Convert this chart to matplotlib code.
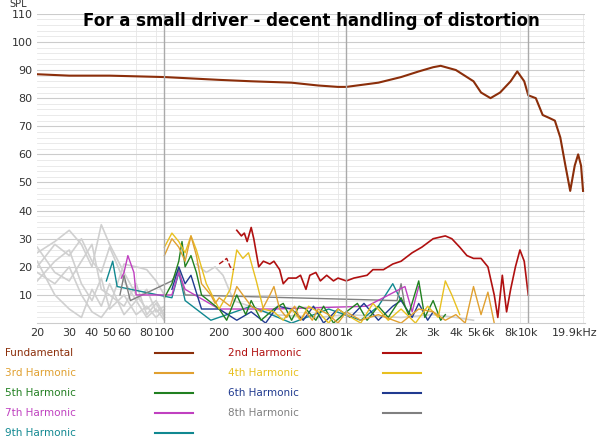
import matplotlib.pyplot as plt
import numpy as np

fund_f = [20, 30, 50, 100, 200, 300, 500, 700, 900, 1000, 1500, 2000, 2500, 3000, 3300, 4000,
          5000, 5500, 6200, 7000, 8000, 8700, 9500, 10000, 11000, 12000, 13000, 14000, 15000,
          16000, 17000, 18000, 18800, 19500, 20000]
fund_db = [88.5, 88, 88, 87.5, 86.5, 86, 85.5, 84.5, 84, 84, 85.5, 87.5, 89.5, 91, 91.5, 90,
           86, 82, 80, 82, 86, 89.5, 86, 81, 80, 74, 73, 72, 66, 56, 47, 56, 60, 56, 47]

h2_f = [250, 265, 275, 285, 300, 310, 330, 350, 380, 400, 430, 450, 480, 530, 560, 600, 630,
        680, 720, 780, 850, 900, 1000, 1100, 1300, 1400, 1600, 1800, 2000, 2300, 2600, 3000,
        3500, 3800, 4200, 4600, 5000, 5500, 6000, 6500, 6800, 7200, 7600, 8000, 8500, 9000,
        9500, 10000]
h2_db = [33, 31, 32, 29, 34, 30, 20, 22, 21, 22, 19, 14, 16, 16, 17, 12, 17, 18, 15, 17, 15,
         16, 15, 16, 17, 19, 19, 21, 22, 25, 27, 30, 31, 30, 27, 24, 23, 23, 20, 10, 2, 17, 4,
         12, 20, 26, 22, 10]
h2_pre_f = [200, 210, 220, 230, 240]
h2_pre_db = [21, 22, 23, 20, 19]

h3_f = [100, 110, 120, 130, 140, 150, 160, 180, 190, 200, 230, 250, 270, 300, 340, 380, 400,
        430, 470, 520, 560, 600, 650, 700, 800, 900, 1000, 1200, 1500, 2000, 2500, 3000, 3500,
        4000, 4500, 5000, 5500, 6000, 6500]
h3_db = [24, 30, 27, 22, 31, 24, 14, 10, 7, 9, 6, 13, 10, 6, 4, 10, 13, 5, 2, 6, 1, 4, 1, 5,
         3, 0, 4, 1, 3, 0, 5, 4, 1, 3, 0, 13, 3, 11, 0]
h4_f = [100, 110, 120, 130, 140, 150, 170, 200, 230, 250, 270, 290, 320, 350, 400, 450, 500,
        560, 620, 700, 800, 900, 1000, 1200, 1400, 1700, 2000, 2400, 2800, 3200, 3500, 3800,
        4200]
h4_db = [27, 32, 29, 25, 31, 26, 14, 5, 12, 26, 23, 25, 15, 5, 4, 1, 5, 1, 6, 4, 0, 5, 3, 0,
         7, 1, 5, 0, 6, 2, 15, 10, 3]
h5_f = [100, 110, 120, 125, 130, 140, 150, 160, 200, 220, 250, 280, 300, 340, 400, 450, 500,
        550, 600, 680, 750, 850, 1000, 1150, 1300, 1500, 1700, 2000, 2200, 2500, 2700, 3000,
        3300, 3500]
h5_db = [9, 14, 22, 29, 20, 24, 18, 10, 5, 1, 10, 3, 8, 1, 5, 7, 1, 6, 5, 1, 6, 0, 4, 7, 1, 6,
         2, 9, 3, 15, 2, 8, 1, 3]
h6_f = [110, 120, 130, 140, 160, 200, 250, 300, 360, 420, 500, 580, 660, 750, 900, 1050, 1250,
        1500, 1800, 2000, 2300, 2500, 2800, 3000]
h6_db = [12, 20, 14, 17, 5, 5, 1, 4, 0, 6, 5, 1, 6, 0, 5, 2, 7, 1, 6, 8, 2, 7, 1, 4]
h7_f = [58, 60, 63, 68, 70, 110, 120, 130, 200, 400, 1300, 2100, 2300, 2500]
h7_db = [16, 18, 24, 18, 10, 10, 18, 12, 5, 5, 6, 13, 4, 13]
h8_f = [57, 60, 65, 110, 120, 130, 1900, 2000, 2100]
h8_db = [10, 17, 8, 15, 19, 10, 8, 14, 6]
h9_f = [48, 52, 55, 110, 120, 130, 180, 300, 500, 800, 1200, 1500, 1800, 2000]
h9_db = [15, 22, 13, 9, 18, 8, 1, 6, 0, 5, 1, 6, 14, 8]

low_f = [20, 25, 30, 35, 40, 45, 50, 60, 70, 80, 90, 100]
low_sets = [
    [25, 29, 33, 28, 20, 35, 28, 18, 10, 5, 8, 3],
    [20, 28, 24, 30, 22, 18, 27, 15, 8, 12, 4, 6],
    [27, 18, 15, 22, 28, 12, 10, 6, 14, 3, 7, 2],
    [15, 22, 26, 14, 8, 16, 5, 10, 3, 6, 2, 5],
    [22, 10, 5, 2, 12, 6, 14, 3, 8, 2, 5, 1],
    [18, 14, 20, 10, 4, 2, 6, 21, 20, 19, 15, 10],
]
mid_f = [150, 170, 190, 210, 240, 400, 700, 1000, 2000, 3000, 4000, 5000]
mid_db = [21, 18, 20, 17, 8, 3, 2, 3, 2, 3, 2, 1]

colors = {
    'Fundamental': '#8b2e0a', '2nd Harmonic': '#b01010', '3rd Harmonic': '#e0a030',
    '4th Harmonic': '#e8c020', '5th Harmonic': '#208020', '6th Harmonic': '#203a90',
    '7th Harmonic': '#c040c0', '8th Harmonic': '#808080', '9th Harmonic': '#108890',
}

fig = plt.figure(figsize=(6, 4.45), dpi=100)
ax = fig.add_axes([0.062, 0.274, 0.913, 0.695])
ax.set_xscale('log')
ax.set_xlim(20, 20500)
ax.set_ylim(0, 110)

for vals in low_sets:
    ax.plot(low_f, vals, color='#d0d0d0', lw=1.2)
ax.plot(mid_f, mid_db, color='#d0d0d0', lw=1.2)

ax.plot(h9_f, h9_db, color=colors['9th Harmonic'], lw=1)
ax.plot(h8_f, h8_db, color=colors['8th Harmonic'], lw=1)
ax.plot(h7_f, h7_db, color=colors['7th Harmonic'], lw=1)
ax.plot(h6_f, h6_db, color=colors['6th Harmonic'], lw=1)
ax.plot(h5_f, h5_db, color=colors['5th Harmonic'], lw=1)
ax.plot(h4_f, h4_db, color=colors['4th Harmonic'], lw=1)
ax.plot(h3_f, h3_db, color=colors['3rd Harmonic'], lw=1)
ax.plot(h2_pre_f, h2_pre_db, color=colors['2nd Harmonic'], lw=1, ls='--')
ax.plot(h2_f, h2_db, color=colors['2nd Harmonic'], lw=1.2)
ax.plot(fund_f, fund_db, color=colors['Fundamental'], lw=1.5)

xt = [20, 30, 40, 50, 60, 80, 100, 200, 300, 400, 600, 800, 1000, 2000, 3000, 4000, 5000,
      6000, 8000, 10000]
xl = ['20', '30', '40', '50', '60', '80', '100', '200', '300', '400', '600', '800', '1k',
      '2k', '3k', '4k', '5k', '6k', '8k', '10k']
ax.set_xticks(xt)
ax.set_xticklabels(xl, fontsize=8)
ax.xaxis.set_minor_locator(plt.LogLocator(subs=np.arange(1, 10)))
ax.xaxis.set_minor_formatter(plt.NullFormatter())
ax.set_yticks(range(10, 111, 10))
ax.set_yticks(range(0, 111, 2), minor=True)
ax.tick_params(axis='both', which='both', length=0, labelsize=8, colors='#333333')
ax.grid(True, which='minor', color='#e6e6e6', lw=0.6)
ax.grid(True, which='major', axis='y', color='#cccccc', lw=0.8)
for d in [100, 1000, 10000]:
    ax.axvline(d, color='#aaaaaa', lw=1)
for s in ax.spines.values():
    s.set_visible(False)
ax.spines['bottom'].set_visible(True)
ax.spines['bottom'].set_color('#cccccc')

ax.set_title('For a small driver - decent handling of distortion', fontsize=12,
             fontweight='bold', y=0.935)
fig.text(0.015, 0.992, 'SPL', fontsize=7, color='#333333', va='center')
fig.text(0.995, 0.2625, '19.9kHz', fontsize=8, color='#333333', ha='right', va='top')

legend_rows = [
    ('Fundamental', '2nd Harmonic'), ('3rd Harmonic', '4th Harmonic'),
    ('5th Harmonic', '6th Harmonic'), ('7th Harmonic', '8th Harmonic'), ('9th Harmonic', None),
]
for i, row in enumerate(legend_rows):
    y = 1 - (353 + 20 * i) / 445
    for name, tx, lx in zip(row, [5, 228], [155, 383]):
        if name is None:
            continue
        fig.text(tx / 600, y, name, fontsize=7.5, color=colors[name], va='center')
        fig.add_artist(plt.Line2D([lx / 600, (lx + 38) / 600], [y, y],
                                  color=colors[name], lw=1.5))

fig.savefig('out.png')
